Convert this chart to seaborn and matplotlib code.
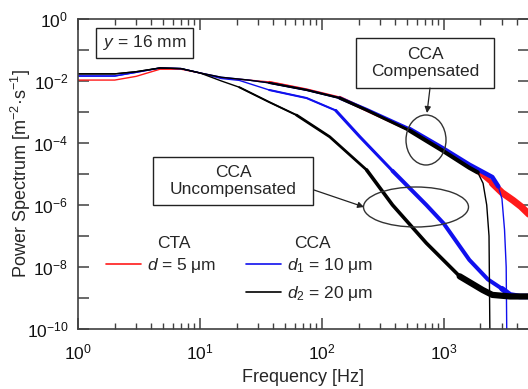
import numpy as np
import pandas as pd
import matplotlib
matplotlib.use("Agg")
import matplotlib.pyplot as plt
import seaborn as sns
from matplotlib.patches import Ellipse, Rectangle
from matplotlib.lines import Line2D
from matplotlib.ticker import LogLocator, FuncFormatter, NullLocator, NullFormatter

# ---------------- data (log10 of power spectrum) -------------
cta_f = [1, 2, 3, 4.7, 7, 10, 15, 25, 37, 75, 140, 233, 524, 980, 1620, 2000, 2500, 3000, 3700, 4300, 5000]
cta_logp = [-1.97, -1.97, -1.85, -1.62, -1.62, -1.74, -1.9, -1.97, -2.03, -2.27, -2.53, -2.94,
            -3.58, -4.2, -4.75, -4.98, -5.3, -5.6, -5.85, -6.05, -6.3]

cca1_comp_f = [1, 2, 3, 4.7, 7, 10, 15, 25, 37, 75, 140, 233, 524, 980, 1620, 2500, 2800, 3000, 3150, 3250, 3300]
cca1_comp_logp = [-1.84, -1.84, -1.72, -1.58, -1.6, -1.74, -1.88, -1.97, -2.06, -2.29, -2.55, -2.92,
                  -3.55, -4.17, -4.7, -5.1, -5.4, -5.8, -6.8, -8.0, -11.0]

cca2_comp_f = [1, 2, 3, 4.7, 7, 10, 15, 25, 37, 75, 140, 233, 524, 980, 1620, 1900, 2100, 2250, 2350, 2400]
cca2_comp_logp = [-1.77, -1.77, -1.7, -1.58, -1.6, -1.74, -1.88, -1.97, -2.06, -2.29, -2.55, -2.94,
                  -3.6, -4.25, -4.8, -4.95, -5.3, -6.0, -7.0, -11.0]

cca1_unc_f = [1, 2, 3, 4.7, 7, 10, 15, 21, 37, 75, 130, 205, 380, 720, 1000, 1620, 2300, 3000, 3500, 4200, 5000]
cca1_unc_logp = [-1.84, -1.84, -1.72, -1.58, -1.6, -1.74, -1.92, -1.98, -2.29, -2.55, -2.95, -3.8,
                 -4.9, -6.0, -6.6, -7.77, -8.4, -8.7, -8.9, -8.95, -8.95]

cca2_unc_f = [1, 2, 3, 4.7, 7, 10, 15, 21, 37, 62, 116, 233, 380, 720, 1350, 2080, 2500, 3500, 5000]
cca2_unc_logp = [-1.77, -1.77, -1.7, -1.58, -1.6, -1.74, -2.0, -2.2, -2.68, -3.1, -3.8, -4.87,
                 -6.0, -7.23, -8.3, -8.74, -8.9, -8.95, -8.95]

x_ticks = [1, 10, 100, 1000]
y_label_exps = [0, -2, -4, -6, -8, -10]

RED = "#ff1a1a"
BLUE = "#1010ee"
BLACK = "#000000"

# ---------------- style ----------------
sns.set_style("ticks")
plt.rcParams['font.family'] = ['Liberation Sans', 'DejaVu Sans']
plt.rcParams['mathtext.fontset'] = 'custom'
plt.rcParams['mathtext.rm'] = 'Liberation Sans'
plt.rcParams['mathtext.it'] = 'Liberation Sans:italic'
plt.rcParams['mathtext.bf'] = 'Liberation Sans:bold'
plt.rcParams['axes.unicode_minus'] = True

FS = 12.5
W, H = 528, 389
L, R, T, B = 78, 529, 19, 329

fig = plt.figure(figsize=(W / 100, H / 100), dpi=100)
ax = fig.add_axes([L / W, (H - B) / H, (R - L) / W, (B - T) / H])


def px2ax(x, y):
    return ((x - L) / (R - L), (B - y) / (B - T))


def draw(f, logp, color, segs, lw_thin=1.0):
    df = pd.DataFrame({"f": f, "P": 10 ** np.array(logp)})
    sns.lineplot(data=df, x="f", y="P", color=color, lw=lw_thin, ax=ax,
                 estimator=None, sort=False, legend=False)
    for fmin, fmax, lw in segs:
        sub = df[(df.f >= fmin) & (df.f <= fmax)]
        sns.lineplot(data=sub, x="f", y="P", color=color, lw=lw, ax=ax,
                     estimator=None, sort=False, legend=False,
                     solid_capstyle="round", solid_joinstyle="round")


draw(cta_f, cta_logp, RED, [(37, 140, 1.5), (140, 1620, 2.3), (1620, 2500, 3.5), (2500, 5000, 5.0)])
draw(cca1_unc_f, cca1_unc_logp, BLUE, [(37, 130, 1.5), (130, 380, 2.2), (380, 3000, 2.9), (3000, 5000, 4.0)])
draw(cca1_comp_f, cca1_comp_logp, BLUE, [(37, 140, 1.5), (140, 524, 2.4), (524, 2800, 3.3)])
draw(cca2_unc_f, cca2_unc_logp, BLACK, [(21, 62, 1.4), (62, 233, 2.0), (233, 1350, 2.6), (1350, 5000, 4.5)])
draw(cca2_comp_f, cca2_comp_logp, BLACK, [(37, 140, 1.5), (140, 524, 2.2), (524, 1900, 3.0)])

ax.set_xscale("log")
ax.set_yscale("log")
ax.set_xlim(1, 5000)
ax.set_ylim(1e-10, 1)

# ticks
spine_c = "#404040"
for s in ax.spines.values():
    s.set_color(spine_c)
    s.set_linewidth(1.2)
    s.set_visible(True)

ax.xaxis.set_major_locator(LogLocator(base=10, numticks=20))
ax.xaxis.set_minor_locator(LogLocator(base=10, subs=np.arange(2, 10), numticks=50))
ax.xaxis.set_minor_formatter(NullFormatter())
ax.xaxis.set_major_formatter(FuncFormatter(
    lambda v, p: "$10^{%d}$" % int(round(np.log10(v))) if v in x_ticks else ""))

ax.yaxis.set_major_locator(LogLocator(base=10, numticks=20))
ax.yaxis.set_minor_locator(NullLocator())


def yfmt(v, p):
    e = int(round(np.log10(v)))
    return "$10^{%d}$" % e if e in y_label_exps else ""


ax.yaxis.set_major_formatter(FuncFormatter(yfmt))

ax.tick_params(which="both", direction="in", top=True, right=True, color=spine_c,
               labelsize=FS, labelcolor="#111111")
ax.tick_params(which="major", length=8, width=1.1)
ax.tick_params(which="minor", length=4, width=1.0)
ax.tick_params(axis="x", which="both", pad=10)
ax.tick_params(axis="y", which="both", pad=7)

ax.set_xlabel("Frequency [Hz]", fontsize=FS + 0.5)
ax.set_ylabel("Power Spectrum [m$^{-2}$·s$^{-1}$]", fontsize=FS + 0.5)
ax.xaxis.set_label_coords(0.5, -0.128)
ax.yaxis.set_label_coords(-0.10, 0.5)

# ---------------- annotations ----------------
def box(x0, y0, x1, y1):
    (ax0, ay1) = px2ax(x0, y1)
    (ax1, ay0) = px2ax(x1, y0)
    ax.add_patch(Rectangle((ax0, ay1), ax1 - ax0, ay0 - ay1, transform=ax.transAxes,
                           fill=True, fc="white", ec="#222222", lw=1.0, zorder=5))


box(96, 28, 193, 58)
ax.text(*px2ax(145, 43), "$y$ = 16 mm", transform=ax.transAxes, ha="center",
        va="center", fontsize=FS, zorder=6)

box(356, 38, 494, 88)
ax.text(*px2ax(425, 63), "CCA\nCompensated", transform=ax.transAxes, ha="center",
        va="center", fontsize=FS, zorder=6, linespacing=1.15)
ax.annotate("", xy=px2ax(427, 113), xytext=px2ax(430, 88), xycoords="axes fraction",
            textcoords="axes fraction",
            arrowprops=dict(arrowstyle="-|>", color="#222222", lw=0.9, mutation_scale=9,
                            shrinkA=0, shrinkB=0), zorder=6)
c = px2ax(426, 140)
ax.add_patch(Ellipse(c, 40 / (R - L), 50 / (B - T), transform=ax.transAxes, fill=False,
                     ec="#333333", lw=1.0, zorder=6))

box(153, 157, 313, 205)
ax.text(*px2ax(233, 181), "CCA\nUncompensated", transform=ax.transAxes, ha="center",
        va="center", fontsize=FS, zorder=6, linespacing=1.15)
ax.annotate("", xy=px2ax(364, 207), xytext=px2ax(314, 190), xycoords="axes fraction",
            textcoords="axes fraction",
            arrowprops=dict(arrowstyle="-|>", color="#222222", lw=0.9, mutation_scale=9,
                            shrinkA=0, shrinkB=0), zorder=6)
c = px2ax(416, 207)
ax.add_patch(Ellipse(c, 105 / (R - L), 40 / (B - T), transform=ax.transAxes, fill=False,
                     ec="#333333", lw=1.0, zorder=6))

# ---------------- legend ----------------
ax.text(*px2ax(174, 244), "CTA", transform=ax.transAxes, ha="center", va="center", fontsize=FS)
ax.text(*px2ax(312, 244), "CCA", transform=ax.transAxes, ha="center", va="center", fontsize=FS)

h_red = Line2D([], [], color=RED, lw=1.2)
h_blue = Line2D([], [], color=BLUE, lw=1.2)
h_black = Line2D([], [], color=BLACK, lw=1.2)
leg1 = ax.legend([h_red], ["$d$ = 5 μm"], loc="upper left", bbox_to_anchor=px2ax(106, 256),
                 bbox_transform=ax.transAxes, frameon=False, borderpad=0, borderaxespad=0,
                 handlelength=2.0, handletextpad=0.35, fontsize=FS)
ax.add_artist(leg1)
leg2 = ax.legend([h_blue, h_black], ["$d_1$ = 10 μm", "$d_2$ = 20 μm"], loc="upper left",
                 bbox_to_anchor=px2ax(246, 256), bbox_transform=ax.transAxes, frameon=False,
                 borderpad=0, borderaxespad=0, handlelength=2.0, handletextpad=0.35,
                 labelspacing=0.5, fontsize=FS)

fig.savefig("out.png", dpi=100)
